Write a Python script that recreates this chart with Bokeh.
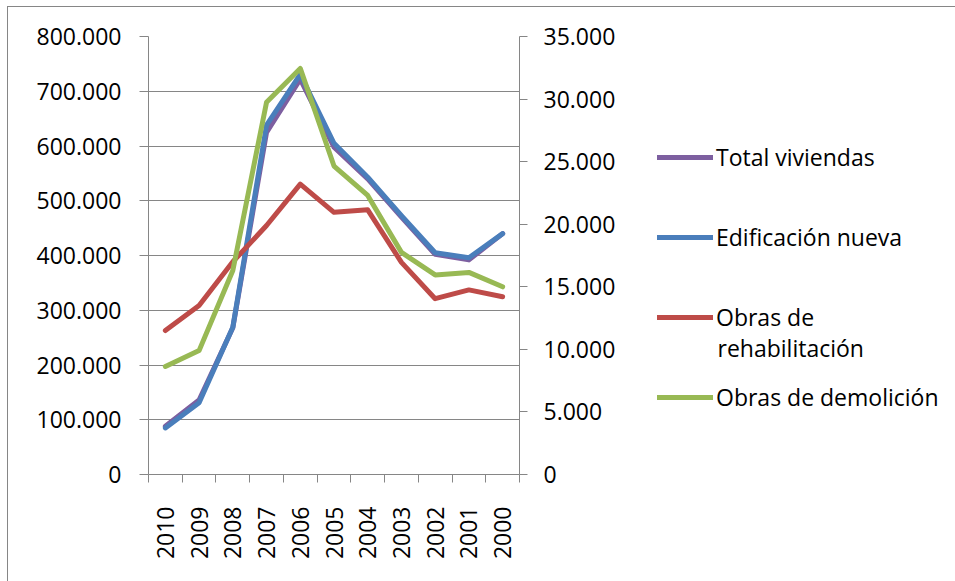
import math
from bokeh.plotting import figure
from bokeh.layouts import row
from bokeh.models import (Range1d, LinearAxis, FixedTicker, Legend, LegendItem, Grid, Label)
from bokeh.embed import file_html
from bokeh.resources import INLINE

# ---- data ----
years = ["2010", "2009", "2008", "2007", "2006", "2005", "2004", "2003", "2002", "2001", "2000"]
total_viviendas = [88000, 136000, 268000, 625000, 722000, 598000, 540000, 470000, 402000, 392000, 440000]
edificacion_nueva = [85000, 131000, 269000, 638000, 731000, 605000, 543000, 473000, 405000, 396000, 440000]
obras_rehabilitacion = [11500, 13500, 17000, 19900, 23200, 20950, 21150, 16950, 14050, 14750, 14200]
obras_demolicion = [8630, 9900, 16300, 29750, 32450, 24650, 22300, 17750, 15950, 16150, 15000]

left_ticks = [0, 100000, 200000, 300000, 400000, 500000, 600000, 700000, 800000]
left_tick_labels = ["0", "100.000", "200.000", "300.000", "400.000", "500.000", "600.000", "700.000", "800.000"]
right_ticks = [0, 5000, 10000, 15000, 20000, 25000, 30000, 35000]
right_tick_labels = ["0", "5.000", "10.000", "15.000", "20.000", "25.000", "30.000", "35.000"]

series_names = ["Total viviendas", "Edificación nueva", "Obras de", "Obras de demolición"]
rehab_second_line = "rehabilitación"
colors = ["#7D5FA0", "#4A7EBB", "#BE4B48", "#98B954"]

FONT = "Open Sans"
FS = "23px"
GRAY = "#868686"
LW = 5

x = [i + 0.5 for i in range(len(years))]
bounds = list(range(len(years) + 1))
series = [total_viviendas, edificacion_nueva, obras_rehabilitacion, obras_demolicion]
ranges = ["default", "default", "right", "right"]

# ---------------- main chart ----------------
p = figure(width=631, height=574,
           x_range=Range1d(0, len(years)), y_range=Range1d(0, 800000),
           output_backend="svg", toolbar_location=None,
           x_axis_location=None, y_axis_location=None,
           min_border_left=140, min_border_right=120,
           min_border_top=29, min_border_bottom=107)
p.extra_y_ranges = {"right": Range1d(0, 35000)}
p.outline_line_color = None
p.background_fill_color = "white"
p.border_fill_color = "white"

p.center = [r for r in p.center if not isinstance(r, Grid)]
p.add_layout(Grid(dimension=1, ticker=FixedTicker(ticks=left_ticks),
                  grid_line_color=GRAY, grid_line_width=1))

for vals, c, rn in zip(series, colors, ranges):
    p.line(x, vals, line_color=c, line_width=LW, line_cap="round",
           line_join="round", y_range_name=rn)

def style_axis(ax):
    ax.axis_line_color = GRAY
    ax.axis_line_width = 1
    ax.major_tick_line_color = GRAY
    ax.minor_tick_line_color = GRAY
    ax.major_label_text_font = FONT
    ax.major_label_text_font_size = FS
    ax.major_label_text_color = "black"

xaxis = LinearAxis(ticker=FixedTicker(ticks=x, minor_ticks=bounds),
                   major_label_overrides={xi: yr for xi, yr in zip(x, years)})
style_axis(xaxis)
xaxis.major_tick_out = 0
xaxis.major_tick_in = 0
xaxis.minor_tick_out = 8
xaxis.minor_tick_in = 0
xaxis.major_label_orientation = math.pi / 2
xaxis.major_label_standoff = 24
p.add_layout(xaxis, "below")

yleft = LinearAxis(ticker=FixedTicker(ticks=left_ticks, minor_ticks=[]),
                   major_label_overrides=dict(zip(left_ticks, left_tick_labels)))
style_axis(yleft)
yleft.major_tick_out = 9
yleft.major_tick_in = 0
yleft.major_label_standoff = 18
p.add_layout(yleft, "left")

yright = LinearAxis(y_range_name="right",
                    ticker=FixedTicker(ticks=right_ticks, minor_ticks=[]),
                    major_label_overrides=dict(zip(right_ticks, right_tick_labels)))
style_axis(yright)
yright.major_tick_out = 8
yright.major_tick_in = 0
yright.major_label_standoff = 16
p.add_layout(yright, "right")

# ---------------- legend panel ----------------
# (series lines are drawn here out of view; only their legend swatches show)
lf = figure(width=316, height=574, x_range=Range1d(-2, -1), y_range=Range1d(-2, -1),
            output_backend="svg", toolbar_location=None,
            x_axis_location=None, y_axis_location=None, min_border=0)
lf.outline_line_color = None
lf.background_fill_color = "white"
lf.border_fill_color = "white"
lf.center = [r for r in lf.center if not isinstance(r, Grid)]

swatches = [lf.line(x, vals, line_color=c, line_width=LW, line_cap="round")
            for vals, c in zip(series, colors)]
legend = Legend(items=[LegendItem(label=n, renderers=[r]) for n, r in zip(series_names, swatches)],
                location=(18, 61),
                border_line_color=None, background_fill_alpha=0,
                padding=0, margin=0, glyph_width=56, glyph_height=32,
                label_standoff=3, label_text_font=FONT, label_text_font_size=FS,
                label_text_color="black", spacing=48)
lf.add_layout(legend)
lf.add_layout(Label(x=78, y=127, x_units="screen", y_units="screen",
                    text=rehab_second_line, text_font=FONT, text_font_size=FS,
                    text_color="black", text_baseline="middle", text_align="left"))

layout = row(p, lf, styles={"border-top": "1px solid #868686",
                            "border-left": "1px solid #868686",
                            "margin-left": "7px", "margin-top": "6px"})

open("out.html", "w").write(file_html(layout, INLINE))
